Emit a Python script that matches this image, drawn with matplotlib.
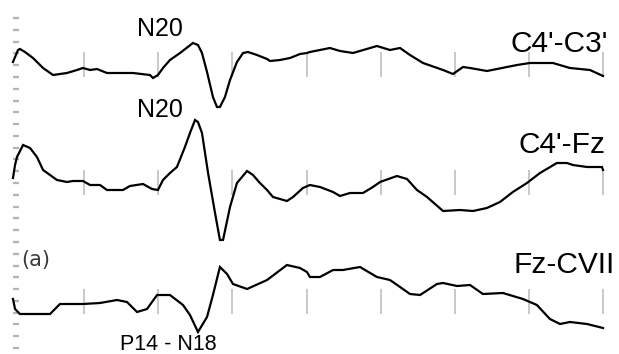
import matplotlib
matplotlib.use("Agg")
import matplotlib.pyplot as plt
import numpy as np

# ---- data: time (ms) and amplitude (µV) for each derivation ----
t_c4c3 = [0.20, 0.54, 0.67, 1.01, 1.55, 2.23, 2.90, 3.84, 4.52, 4.92,
          5.40, 5.87, 6.54, 8.30, 9.44, 9.65, 9.98, 10.32, 10.79, 11.47,
          12.34, 12.68, 12.95, 13.29, 13.69, 13.96, 14.16, 14.50, 14.84, 15.31,
          15.72, 16.05, 16.66, 17.34, 17.54, 18.21, 18.89, 19.56, 20.03, 20.23,
          21.58, 22.26, 23.14, 24.75, 25.63, 26.31, 26.98, 27.86, 29.21, 29.88,
          30.56, 31.03, 32.17, 32.85, 34.20, 35.07, 36.62, 37.77, 39.12, 40.0]
v_c4c3 = [0.2, 1.4, 1.5, 1.2, 0.6, -0.4, -1.1, -0.9, -0.6, -0.4,
          -0.6, -0.5, -0.9, -0.9, -1.1, -1.4, -1.1, -0.4, 0.4, 1.1,
          2.1, 1.9, 1.1, -0.8, -3.3, -4.3, -4.3, -3.3, -1.6, 0.2,
          1.1, 1.2, 0.9, 0.5, 0.3, 0.4, 0.6, 1.0, 1.1, 1.2,
          1.6, 1.3, 1.1, 1.8, 1.4, 1.6, 0.9, 0.1, -0.6, -1.0,
          -0.3, -0.4, -0.7, -0.5, -0.1, 0.1, 0.1, -0.4, -0.6, -1.2]

t_c4fz = [0.20, 0.34, 0.47, 0.88, 1.35, 1.82, 2.23, 3.17, 3.84, 4.25,
          4.92, 5.40, 6.07, 6.54, 7.62, 8.09, 8.97, 9.58, 9.98, 10.32,
          10.79, 11.26, 11.80, 12.14, 12.48, 12.68, 12.95, 13.36, 13.83, 14.16,
          14.37, 14.84, 15.31, 15.99, 16.39, 16.86, 17.34, 17.74, 18.68, 19.09,
          19.76, 20.23, 20.91, 21.79, 22.26, 22.93, 23.81, 24.48, 24.96, 26.10,
          26.78, 27.45, 28.13, 29.21, 30.35, 31.23, 32.17, 33.05, 33.92, 34.87,
          35.75, 36.89, 37.57, 37.97, 38.92, 39.93, 40.0]
v_c4fz = [0.4, 1.7, 2.5, 3.7, 3.4, 2.5, 1.2, 0.2, 0.0, 0.1,
          0.1, -0.3, -0.3, -0.8, -0.8, -0.4, -0.2, -0.7, -0.8, 0.2,
          0.9, 1.5, 3.5, 4.9, 6.2, 6.0, 4.9, 0.9, -3.1, -5.8,
          -5.8, -2.5, -0.1, 1.1, 0.7, -0.1, -0.8, -1.5, -1.9, -1.5,
          -0.6, -0.3, -0.5, -1.0, -1.4, -1.1, -1.1, -0.5, 0.0, 0.6,
          0.3, -0.8, -1.5, -2.9, -2.8, -2.9, -2.6, -2.0, -1.0, -0.1,
          0.9, 1.9, 1.9, 1.7, 1.5, 1.5, 1.2]

t_fzcv = [0.20, 0.34, 0.67, 2.70, 3.17, 3.37, 4.92, 6.07, 7.22, 7.89,
          8.57, 9.24, 9.92, 10.79, 11.67, 12.14, 12.68, 13.29, 13.69, 14.16,
          14.64, 15.04, 15.99, 17.34, 18.68, 19.56, 20.03, 20.23, 20.91, 21.79,
          22.46, 23.61, 24.75, 25.63, 26.31, 26.98, 27.66, 28.80, 29.21, 30.15,
          31.03, 31.90, 33.25, 34.60, 35.54, 36.42, 37.10, 37.77, 38.92, 40.0]
v_fzcv = [0.2, -0.8, -1.3, -1.3, -0.6, -0.3, -0.3, -0.2, 0.1, -0.1,
          -1.1, -0.8, 0.6, 0.6, -0.4, -1.4, -3.1, -1.6, 0.6, 3.4,
          2.7, 1.7, 1.2, 2.1, 3.6, 3.3, 2.9, 2.4, 2.4, 3.1,
          3.1, 3.4, 2.4, 2.1, 1.4, 0.7, 0.6, 1.7, 1.8, 1.5,
          1.6, 0.7, 0.8, 0.2, -0.4, -1.8, -2.3, -2.1, -2.3, -2.7]

labels = ["C4'-C3'", "C4'-Fz", "Fz-CVII"]
time_ticks = [5, 10, 15, 20, 25, 30, 35, 40]

# ---- layout ----
W, H = 619, 354
fig = plt.figure(figsize=(W / 100, H / 100), dpi=100)
ax = fig.add_axes([0, 0, 1, 1])
# x: ms mapped so 0 ms -> 10 px, 40 ms -> 603 px ; y: pixel rows
ms_per_px = 40 / 593
ax.set_xlim(-10 * ms_per_px, (W - 10) * ms_per_px)
ax.set_ylim(H, 0)
ax.axis("off")

offsets = [64, 182, 301]
gain = 10.0
series = [(t_c4c3, v_c4c3), (t_c4fz, v_c4fz), (t_fzcv, v_fzcv)]

for (t, v), off in zip(series, offsets):
    ax.vlines(time_ticks, off - 12, off + 13, color="#c4c4c4", lw=1.3, zorder=1)
    y = off - gain * np.asarray(v)
    ax.plot(t, y, color="black", lw=1.6, zorder=3, solid_joinstyle="miter")

# left dashed scale
dash_y = np.linspace(18, 348, 29)
x0 = 3 * ms_per_px
x1 = 9 * ms_per_px
ax.hlines(dash_y, x0, x1, color="#b4b4b4", lw=1.6, zorder=0)

fam = ["Liberation Sans", "DejaVu Sans"]

def ftext(px, py, s, **kw):
    fig.text(px / W, 1 - py / H, s, va="baseline", family=fam, **kw)

ftext(160, 36, "N20", fontsize=18, ha="center")
ftext(160, 117, "N20", fontsize=18, ha="center")
ftext(608, 52, labels[0], fontsize=21.5, ha="right")
ftext(606, 153, labels[1], fontsize=21.5, ha="right")
ftext(513, 273, labels[2], fontsize=21.5, ha="left")
ftext(168, 350, "P14 - N18", fontsize=15.5, ha="center")
fig.text(21 / W, 1 - 266 / H, "(a)", fontsize=15, color="#3a3a3a",
         family="DejaVu Sans", va="baseline")

fig.savefig("out.png", dpi=100)
